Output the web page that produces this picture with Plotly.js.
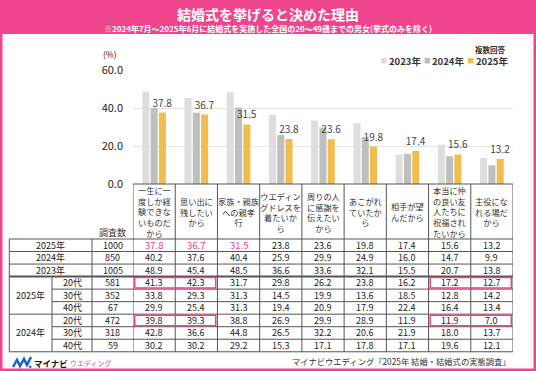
<!DOCTYPE html>
<html><head><meta charset="utf-8">
<script src="https://cdn.plot.ly/plotly-3.0.1.min.js"></script>
<style>html,body{margin:0;padding:0;background:#ef458c}#chart{width:536px;height:371px}</style>
</head><body><div id="chart"></div>
<script>
// ---------- DATA ----------
const categories = [
  '一生に一<br>度しか経<br>験できな<br>いものだ<br>から',
  '思い出に<br>残したい<br>から',
  '家族・親族<br>への親孝<br>行',
  'ウエディン<br>グドレスを<br>着たいか<br>ら',
  '周りの人<br>に感謝を<br>伝えたい<br>から',
  'あこがれ<br>ていたか<br>ら',
  '相手が望<br>んだから',
  '本当に仲<br>の良い友<br>人たちに<br>祝福され<br>たいから',
  '主役にな<br>れる場だ<br>から'
];
const seriesNames = ['2023年', '2024年', '2025年'];
const values2023 = [48.9, 45.4, 48.5, 36.6, 33.6, 32.1, 15.5, 20.7, 13.8];
const values2024 = [40.2, 37.6, 40.4, 25.9, 29.9, 24.9, 16.0, 14.7, 9.9];
const values2025 = [37.8, 36.7, 31.5, 23.8, 23.6, 19.8, 17.4, 15.6, 13.2];
const yTicks = [0, 20, 40, 60];

const totalRowLabels = ['2025年', '2024年', '2023年'];
const totalSampleSizes = [1000, 850, 1005];
const ageGroupYears = ['2025年', '2024年'];
const ageLabels = ['20代', '30代', '40代'];
const ageSampleSizes2025 = [581, 352, 67];
const ageSampleSizes2024 = [472, 318, 59];
const age20s2025 = [41.3, 42.3, 31.7, 29.8, 26.2, 23.8, 16.2, 17.2, 12.7];
const age30s2025 = [33.8, 29.3, 31.3, 14.5, 19.9, 13.6, 18.5, 12.8, 14.2];
const age40s2025 = [29.9, 25.4, 31.3, 19.4, 20.9, 17.9, 22.4, 16.4, 13.4];
const age20s2024 = [39.8, 39.3, 38.8, 26.9, 29.9, 28.9, 11.9, 11.9, 7.0];
const age30s2024 = [42.8, 36.6, 44.8, 26.5, 32.2, 20.6, 21.9, 18.0, 13.7];
const age40s2024 = [30.2, 30.2, 29.2, 15.3, 17.1, 17.8, 17.1, 19.6, 12.1];

const titleText = '結婚式を挙げると決めた理由';
const subtitleText = '※2024年7月～2025年6月に結婚式を実施した全国の20～49歳までの男女(挙式のみを除く)';
const sampleHeader = '調査数';
const multiNote = '複数回答';
const unitLabel = '(%)';
const sourceText = 'マイナビウエディング「2025年 結婚・結婚式の実態調査」';

// ---------- LAYOUT HELPERS ----------
const W = 536, H = 371;
const FONT = '"Noto Sans CJK JP", "Noto Sans", sans-serif';
const PINK = '#ef458c';
const HILITE = '#f0418a';
const colors = ['#dedede', '#bfbfbf', '#f0bd4e'];
const fx = p => p / W;
const fy = p => 1 - p / H;

const catIdx = categories.map((_, i) => i);
const seriesValues = [values2023, values2024, values2025];

const traces = seriesNames.map((name, s) => ({
  type: 'bar', name: name, x: catIdx, y: seriesValues[s],
  marker: {color: colors[s], line: {width: 0}},
  text: s === 2 ? seriesValues[s].map(v => v.toFixed(1)) : undefined,
  textposition: s === 2 ? 'outside' : 'none',
  constraintext: 'none',
  textfont: {family: FONT, size: 10, color: '#444'},
  cliponaxis: false, hoverinfo: 'skip'
}));

const shapes = [];
const annotations = [];

// white panel
shapes.push({type: 'rect', xref: 'paper', yref: 'paper', x0: fx(2.5), x1: fx(533.5), y0: fy(368.5), y1: fy(34),
  fillcolor: '#ffffff', line: {width: 0}, layer: 'below'});

function txt(xref, x, ypx, text, size, color, extra) {
  annotations.push(Object.assign({
    xref: xref, yref: 'paper', x: x, y: fy(ypx), text: text, showarrow: false,
    xanchor: 'center', yanchor: 'middle', borderpad: 0,
    font: {family: FONT, size: size, color: color}
  }, extra || {}));
}
function hline(ypx, x0, x1, w, xref) {
  shapes.push({type: 'line', xref: xref || 'paper', yref: 'paper',
    x0: xref === 'x' ? x0 : fx(x0), x1: xref === 'x' ? x1 : fx(x1),
    y0: fy(ypx), y1: fy(ypx), line: {color: '#555', width: w || 1}});
}
function vline(x, y0px, y1px, xref) {
  shapes.push({type: 'line', xref: xref || 'paper', yref: 'paper',
    x0: xref === 'x' ? x : fx(x), x1: xref === 'x' ? x : fx(x),
    y0: fy(y0px), y1: fy(y1px), line: {color: '#555', width: 1}});
}

// title
txt('paper', 0.5, 13.5, '<b>' + titleText + '</b>', 14, '#ffffff');
txt('paper', 0.5, 28.5, '<b>' + subtitleText + '</b>', 8, '#ffffff');

// unit + legend
txt('paper', fx(110), 54, unitLabel, 8.5, '#222');
txt('paper', fx(507), 49.5, '<b>' + multiNote + '</b>', 7.5, '#333', {xanchor: 'right'});
seriesNames.forEach((n, s) => {
  const x0 = 381 + s * 43.5;
  shapes.push({type: 'rect', xref: 'paper', yref: 'paper', x0: fx(x0), x1: fx(x0 + 5.5),
    y0: fy(63.5), y1: fy(58), fillcolor: colors[s], line: {width: 0}});
  txt('paper', fx(x0 + 6.5), 61, '<b>' + n + '</b>', 9.5, '#333', {xanchor: 'left'});
});

// table geometry
const headTop = 184, headBot = 239, rowH = 12.53;
const rowY = k => headBot + k * rowH;
const tableEnd = rowY(9);
const xL = 9.3, xAge = 52, xN = 92, xR = 513;

hline(headTop, -0.5, 8.5, 1, 'x');
for (let k = 0; k <= 9; k++) {
  const full = (k <= 3 || k === 6 || k === 9);
  hline(rowY(k), full ? xL : xAge, xR, k === 3 ? 2 : 1);
}
vline(xL, headBot, tableEnd);
vline(xAge, rowY(3), tableEnd);
vline(xN, headBot, tableEnd);
for (let i = 0; i <= categories.length; i++) vline(i - 0.5, headTop, tableEnd, 'x');

// header labels
categories.forEach((c, i) => txt('x', i, (headTop + headBot) / 2, c, 8.2, '#333'));
txt('paper', fx(112.5), 232, sampleHeader, 9, '#333');

const fmt = v => v.toFixed(1);
const TS = 9, LS = 9, TC = '#222';
// total rows
const totalRows = [values2025, values2024, values2023];
totalRows.forEach((vals, k) => {
  const yc = rowY(k) + rowH / 2;
  txt('paper', fx(50.5), yc, totalRowLabels[k], LS, TC);
  txt('paper', fx(112.5), yc, String(totalSampleSizes[k]), TS, TC);
  vals.forEach((v, i) => txt('x', i, yc, fmt(v), k === 0 && i < 3 ? 9.5 : TS, (k === 0 && i < 3) ? HILITE : TC));
});
// age rows
const ageBlocks = [
  {rows: [age20s2025, age30s2025, age40s2025], n: ageSampleSizes2025},
  {rows: [age20s2024, age30s2024, age40s2024], n: ageSampleSizes2024}
];
ageBlocks.forEach((blk, g) => {
  const base = 3 + g * 3;
  txt('paper', fx(30.5), (rowY(base) + rowY(base + 3)) / 2, ageGroupYears[g], LS, TC);
  blk.rows.forEach((vals, r) => {
    const yc = rowY(base + r) + rowH / 2;
    txt('paper', fx(72), yc, ageLabels[r], LS, TC);
    txt('paper', fx(112.5), yc, String(blk.n[r]), TS, TC);
    vals.forEach((v, i) => txt('x', i, yc, fmt(v), TS, TC));
  });
  // highlight boxes on 20代 row
  [[0, 1], [7, 8]].forEach(([c0, c1]) => {
    shapes.push({type: 'rect', xref: 'x', yref: 'paper', x0: c0 - 0.5 + 0.04, x1: c1 + 0.5 - 0.04,
      y0: fy(rowY(base + 1) - 1), y1: fy(rowY(base) + 1), line: {color: HILITE, width: 1.5}, fillcolor: 'rgba(0,0,0,0)'});
  });
});

// logo
const logoPts = [[13, 367], [17, 360], [20, 366], [24, 359], [27, 365], [31, 357]];
shapes.push({type: 'path', xref: 'paper', yref: 'paper',
  path: logoPts.map((p, i) => (i ? 'L' : 'M') + fx(p[0]) + ',' + fy(p[1])).join(' '),
  line: {color: '#1c5fcf', width: 2.5}});
shapes.push({type: 'circle', xref: 'paper', yref: 'paper', x0: fx(29), x1: fx(31.5), y0: fy(368), y1: fy(365.5),
  fillcolor: '#1c5fcf', line: {width: 0}});
txt('paper', fx(33), 362.5, '<b>マイナビ</b>', 8.5, '#111', {xanchor: 'left'});
txt('paper', fx(69), 363, 'ウエディング', 7, HILITE, {xanchor: 'left'});
txt('paper', fx(512), 361, sourceText, 8.3, '#333', {xanchor: 'right'});

const layout = {
  width: W, height: H, margin: {l: 0, r: 0, t: 0, b: 0},
  paper_bgcolor: PINK, plot_bgcolor: 'rgba(0,0,0,0)',
  showlegend: false, barmode: 'group', bargap: 0.41, bargroupgap: 0.15,
  font: {family: FONT},
  xaxis: {domain: [fx(133), fx(513)], range: [-0.5, 8.5], showticklabels: false, showgrid: false,
    zeroline: false, showline: false, ticks: '', fixedrange: true},
  yaxis: {domain: [fy(184), fy(70.5)], range: [0, 60], tickvals: yTicks, tickformat: '.1f',
    gridcolor: '#e4e4e4', gridwidth: 1, zeroline: false, showline: false, ticks: '',
    ticklabelstandoff: 9, tickfont: {family: FONT, size: 11, color: '#222'}, fixedrange: true},
  shapes: shapes, annotations: annotations
};
Plotly.newPlot('chart', traces, layout, {displayModeBar: false, staticPlot: true});
</script>
</body></html>
